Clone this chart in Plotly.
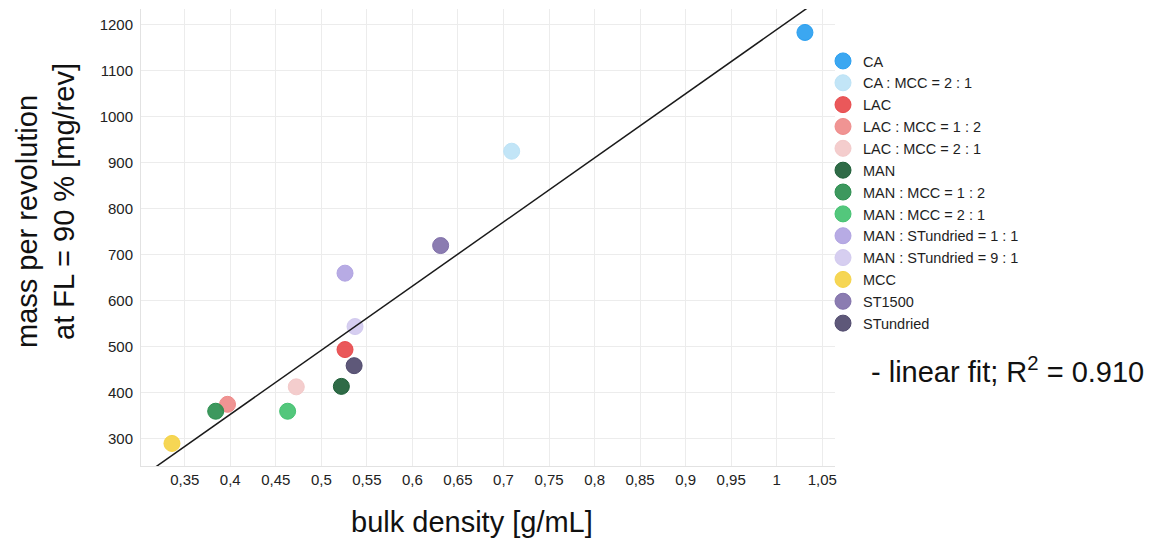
import numpy as np
import plotly.graph_objects as go

# Powder samples: bulk density [g/mL] vs. mass per revolution at FL = 90 % [mg/rev]
samples = [
    "CA", "CA : MCC = 2 : 1", "LAC", "LAC : MCC = 1 : 2", "LAC : MCC = 2 : 1",
    "MAN", "MAN : MCC = 1 : 2", "MAN : MCC = 2 : 1", "MAN : STundried = 1 : 1",
    "MAN : STundried = 9 : 1", "MCC", "ST1500", "STundried",
]
bulk_density = [1.031, 0.709, 0.526, 0.397, 0.4725, 0.522, 0.384, 0.463,
                0.526, 0.537, 0.336, 0.631, 0.536]
mass_per_rev = [1183, 925, 494, 375, 413, 414, 360, 360, 660, 544, 290, 720, 459]
colors = ["#2a9ff0", "#bde3f6", "#e84a4c", "#ef8b8a", "#f3c9c9", "#1d5e37",
          "#2d8f50", "#44c271", "#b1a4e2", "#d2caef", "#f5d345", "#8171aa",
          "#504a6e"]

x_tick_vals = [0.35, 0.4, 0.45, 0.5, 0.55, 0.6, 0.65, 0.7, 0.75, 0.8, 0.85,
               0.9, 0.95, 1.0, 1.05]
x_tick_text = ["0,35", "0,4", "0,45", "0,5", "0,55", "0,6", "0,65", "0,7",
               "0,75", "0,8", "0,85", "0,9", "0,95", "1", "1,05"]
y_tick_vals = [300, 400, 500, 600, 700, 800, 900, 1000, 1100, 1200]

x_range = [0.302, 1.064]
y_range = [241, 1234]

W, H = 1153, 539
M = dict(l=141, r=318, t=9, b=73)
PW, PH = W - M["l"] - M["r"], H - M["t"] - M["b"]


def px(x):
    return (x - M["l"]) / PW


def py(y):
    return (H - M["b"] - y) / PH


def hex_rgba(h, a):
    h = h.lstrip("#")
    r, g, b = int(h[0:2], 16), int(h[2:4], 16), int(h[4:6], 16)
    return f"rgba({r},{g},{b},{a})"


fig = go.Figure()
for name, x, y, c in zip(samples, bulk_density, mass_per_rev, colors):
    fig.add_trace(go.Scatter(
        x=[x], y=[y], mode="markers", name=name,
        marker=dict(size=16, color=hex_rgba(c, 0.92),
                    line=dict(width=1, color=hex_rgba(c, 1.0))),
    ))

# least-squares line through all samples
slope, intercept = np.polyfit(bulk_density, mass_per_rev, 1)
fx = np.array(x_range)
fig.add_trace(go.Scatter(
    x=fx, y=slope * fx + intercept, mode="lines", showlegend=False,
    line=dict(color="#1a1a1a", width=1.5), hoverinfo="skip",
))

title_font = dict(family="Liberation Sans, Arial, sans-serif", size=29, color="#111111")

fig.update_layout(
    width=W, height=H, margin=M,
    paper_bgcolor="white", plot_bgcolor="white",
    font=dict(family="Liberation Sans, Arial, sans-serif", size=15, color="#222222"),
    showlegend=True,
    legend=dict(x=px(823), y=py(45), xanchor="left", yanchor="top",
                font=dict(size=14.5, color="#1e1e1e"), bgcolor="rgba(0,0,0,0)",
                itemsizing="trace"),
    xaxis=dict(range=x_range, tickvals=x_tick_vals, ticktext=x_tick_text,
               showgrid=True, gridcolor="#ececec", gridwidth=1,
               showline=True, linecolor="#e2e2e2", linewidth=1,
               zeroline=False, ticks="", ticklabelstandoff=0),
    yaxis=dict(range=y_range, tickvals=y_tick_vals,
               showgrid=True, gridcolor="#ececec", gridwidth=1,
               showline=True, linecolor="#e2e2e2", linewidth=1,
               zeroline=False, ticks="", ticklabelstandoff=4),
    annotations=[
        dict(text="mass per revolution", xref="paper", yref="paper",
             x=px(27), y=py(222), xanchor="center", yanchor="middle",
             textangle=-90, showarrow=False, font=title_font),
        dict(text="at FL = 90 % [mg/rev]", xref="paper", yref="paper",
             x=px(64), y=py(202), xanchor="center", yanchor="middle",
             textangle=-90, showarrow=False, font=title_font),
        dict(text="bulk density [g/mL]", xref="paper", yref="paper",
             x=px(472), y=py(522), xanchor="center", yanchor="middle",
             showarrow=False, font=title_font),
        dict(text="- linear fit; R<sup>2</sup> = 0.910", xref="paper", yref="paper",
             x=px(869), y=py(370), xanchor="left", yanchor="middle",
             showarrow=False, font=title_font),
    ],
)

fig.write_html("out.html")
